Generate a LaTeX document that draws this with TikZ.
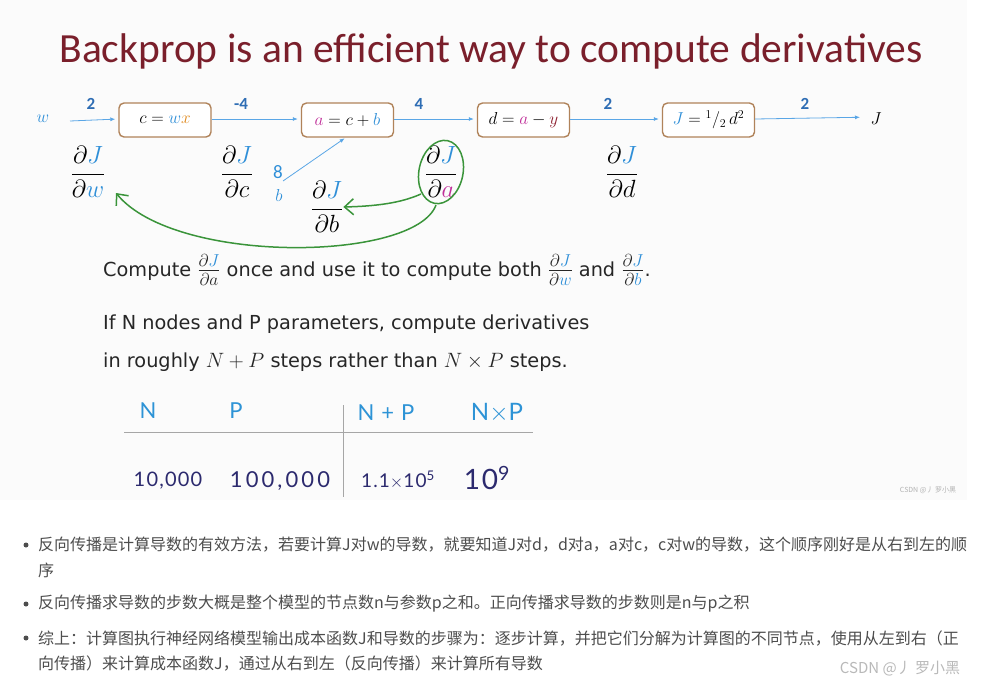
\documentclass[tikz,border=0pt]{standalone}
\usepackage{fontspec}
\usepackage{amsmath}
\usetikzlibrary{arrows.meta}
\setmainfont{DejaVu Sans}
\newfontfamily\titlefont{Carlito}
\newfontfamily\cjk{Noto Sans CJK SC}
\newfontfamily\handfont{Lato}
\definecolor{titlered}{HTML}{7A1F2B}
\definecolor{boxbrown}{HTML}{B0835A}
\definecolor{flowblue}{HTML}{5AA6E6}
\definecolor{numblue}{HTML}{2E6DB4}
\definecolor{vblue}{HTML}{2F8FD8}
\definecolor{xorange}{HTML}{E08A1E}
\definecolor{amag}{HTML}{C0309A}
\definecolor{ydark}{HTML}{8E2030}
\definecolor{bpgreen}{HTML}{3A943A}
\definecolor{handblue}{HTML}{2D93D6}
\definecolor{handink}{HTML}{2C2A6E}
\definecolor{bodygray}{HTML}{4D4D4D}
\definecolor{slidebg}{HTML}{FBFBFB}
\newcommand\inlfrac[2]{{\fontsize{24}{24}\selectfont$\frac{#1}{#2}$}}
\tikzset{
  opbox/.style={draw=boxbrown, line width=1.4pt, rounded corners=5pt, fill=white,
    minimum width=92pt, minimum height=34pt, inner sep=0pt, font=\fontsize{17.5}{20}\selectfont},
  flow/.style={draw=flowblue, line width=0.8pt, -{Latex[length=5pt,width=4pt]}, shorten >=3pt},
  numlab/.style={font=\titlefont\bfseries\fontsize{17}{20}\selectfont, text=numblue},
  deriv/.style={font=\fontsize{24}{28}\selectfont, inner sep=0pt},
  backarrow/.style={draw=bpgreen, line width=1.5pt, -{Straight Barb[length=9pt,width=16pt,line width=1.5pt]}},
  slidetext/.style={anchor=west, inner sep=0pt, font=\fontsize{19.3}{22}\selectfont, text=black!85},
  hand/.style={font=\handfont\fontsize{22}{24}\selectfont, inner sep=0pt},
  cjkline/.style={anchor=west, inner sep=0pt, font=\cjk\fontsize{16}{18}\selectfont, text=bodygray},
  bulletdot/.style={circle, fill=bodygray, inner sep=0pt, minimum size=5pt}
}
\begin{document}
\begin{tikzpicture}[x=1pt,y=-1pt]
\useasboundingbox (0,0) rectangle (985,688);
\fill[white] (0,0) rectangle (985,688);
\fill[slidebg] (0,0) rectangle (967,500);
% title
\node[font=\titlefont\fontsize{41.5}{46}\selectfont, text=titlered] (title) at (491,51) {Backprop is an efficient way to compute derivatives};
% computation graph
\node[font=\fontsize{19}{20}\selectfont, text=vblue] (w) at (43,119) {$w$};
\coordinate (wstart) at (70,121);
\node[opbox] (b1) at (165,120) {$c = {\color{vblue}w}{\color{xorange}x}$};
\node[opbox] (b2) at (347.5,120) {$\color{amag}a\color{black} = c + {\color{vblue}b}$};
\node[opbox] (b3) at (523.5,120) {$d = {\color{amag}a} - {\color{ydark}y}$};
\node[opbox] (b4) at (708.5,120) {${\color{vblue}J} = {}^{1}/{}_{2}\, d^{2}$};
\node[font=\fontsize{19}{20}\selectfont] (J) at (876,119) {$J$};
\draw[flow] (wstart) -- ([yshift=1pt]b1.west);
\draw[flow] ([yshift=1pt]b1.east) -- ([yshift=1pt]b2.west);
\draw[flow] ([yshift=1pt]b2.east) -- ([yshift=1pt]b3.west);
\draw[flow] ([yshift=1pt]b3.east) -- ([yshift=1pt]b4.west);
\draw[flow, shorten >=16pt] ([yshift=1pt]b4.east) -- ([yshift=2pt]J.center);
\node[numlab] (n1) at (91,104) {2};
\node[numlab] (n2) at (241,104) {-4};
\node[numlab] (n3) at (419,104) {4};
\node[numlab] (n4) at (608,104) {2};
\node[numlab] (n5) at (805,104) {2};
% b input
\node[font=\titlefont\fontsize{19}{20}\selectfont, text=vblue] (eight) at (278,172) {8};
\node[font=\fontsize{19}{20}\selectfont, text=vblue] (bin) at (279,195) {$b$};
\coordinate (bstart) at (283,181);
\draw[flow, shorten >=1pt] (bstart) -- ([xshift=-2pt]b2.south);
% derivatives
\node[deriv] (dw) at (88,172) {$\dfrac{\partial {\color{vblue}J}}{\partial {\color{vblue}w}}$};
\node[deriv] (dc) at (237,172) {$\dfrac{\partial {\color{vblue}J}}{\partial c}$};
\node[deriv] (db) at (327,207) {$\dfrac{\partial {\color{vblue}J}}{\partial b}$};
\node[deriv] (da) at (441,172) {$\dfrac{\partial {\color{vblue}J}}{\partial {\color{amag}a}}$};
\node[deriv] (dd) at (622,172) {$\dfrac{\partial {\color{vblue}J}}{\partial d}$};
% green annotations
\draw[bpgreen, line width=1.5pt] (da.center) ellipse [x radius=22pt, y radius=32pt, rotate=-12];
\coordinate (ea) at (421,194);
\coordinate (eb) at (436,205);
\coordinate (wtip) at (116,193);
\draw[backarrow] (ea) .. controls (405,201) and (385,206) .. (db.east);
\draw[backarrow] (eb) .. controls (415,262) and (175,265) .. (wtip);
% text lines
\node[slidetext] (l1) at (103,270) {Compute \inlfrac{\partial {\color{vblue}J}}{\partial a} once and use it to compute both \inlfrac{\partial {\color{vblue}J}}{\partial {\color{vblue}w}} and \inlfrac{\partial {\color{vblue}J}}{\partial {\color{vblue}b}}.};
\node[slidetext] (l2) at (103,324) {If N nodes and P parameters, compute derivatives};
\node[slidetext] (l3) at (103,362) {in roughly $N+P$ steps rather than $N\times P$ steps.};
% table
\coordinate (hl) at (124,432);
\coordinate (hr) at (533,432);
\coordinate (vt) at (343,405);
\coordinate (vb) at (343,497);
\draw[gray!70, line width=1pt] (hl) -- (hr);
\draw[gray!70, line width=1pt] (vt) -- (vb);
\node[hand, text=handblue] (tN) at (148,411) {N};
\node[hand, text=handblue] (tP) at (236,411) {P};
\node[hand, text=handblue, font=\handfont\fontsize{22}{24}\selectfont\addfontfeatures{LetterSpace=6}] (tNP) at (386,413) {N + P};
\node[hand, text=handblue, font=\handfont\fontsize{24}{24}\selectfont] (tNxP) at (497,413) {N${\times}$P};
\node[hand, text=handink, font=\handfont\fontsize{20}{24}\selectfont\addfontfeatures{LetterSpace=6}] (v1) at (168,481) {10,000};
\node[hand, text=handink, font=\handfont\fontsize{22}{24}\selectfont\addfontfeatures{LetterSpace=14}] (v2) at (280,481) {100,000};
\node[hand, text=handink, font=\handfont\fontsize{19}{24}\selectfont\addfontfeatures{LetterSpace=6}] (v3) at (398,480) {1.1${\times}$10\textsuperscript{5}};
\node[hand, text=handink, font=\handfont\fontsize{28}{30}\selectfont\addfontfeatures{LetterSpace=6}] (v4) at (487,478) {10\textsuperscript{9}};
\node[font=\cjk\fontsize{7}{8}\selectfont, text=gray!60] (wm1) at (928,490) {CSDN @丿 罗小黑};
% bullets
\node[bulletdot] (d1) at (26,545) {};
\node[cjkline] (t1a) at (38,545) {反向传播是计算导数的有效方法，若要计算J对w的导数，就要知道J对d，d对a，a对c，c对w的导数，这个顺序刚好是从右到左的顺};
\node[cjkline] (t1b) at (38,570) {序};
\node[bulletdot] (d2) at (26,604) {};
\node[cjkline] (t2) at (38,604) {反向传播求导数的步数大概是整个模型的节点数n与参数p之和。正向传播求导数的步数则是n与p之积};
\node[bulletdot] (d3) at (26,638) {};
\node[cjkline] (t3a) at (38,638) {综上：计算图执行神经网络模型输出成本函数J和导数的步骤为：逐步计算，并把它们分解为计算图的不同节点，使用从左到右（正};
\node[cjkline] (t3b) at (38,663) {向传播）来计算成本函数J，通过从右到左（反向传播）来计算所有导数};
\node[font=\cjk\fontsize{15}{18}\selectfont, text=gray!55] (wm2) at (900,669) {CSDN @丿 罗小黑};
\end{tikzpicture}
\end{document}
